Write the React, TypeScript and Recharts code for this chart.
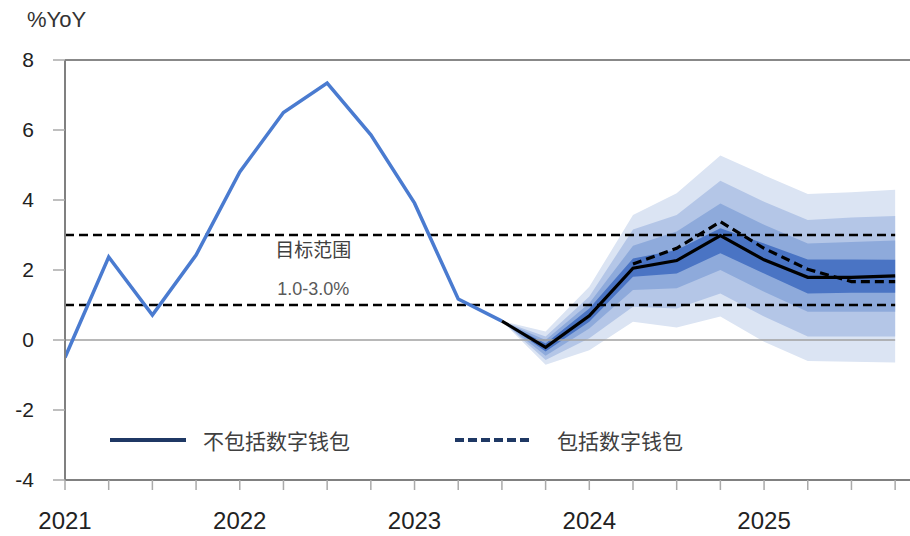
import React from 'react';
import {
  ComposedChart, Line, Area, XAxis, YAxis, ReferenceLine, ReferenceDot,
} from 'recharts';

// quarters 2021Q1 .. 2025Q4
const quarterIdx = [0, 1, 2, 3, 4, 5, 6, 7, 8, 9, 10, 11, 12, 13, 14, 15, 16, 17, 18, 19];
const yearTicks = ['2021', '2022', '2023', '2024', '2025'];

const history = [-0.5, 2.37, 0.71, 2.43, 4.8, 6.5, 7.34, 5.86, 3.91, 1.17, 0.54, null, null, null, null, null, null, null, null, null];
const noWallet = [null, null, null, null, null, null, null, null, null, null, 0.54, -0.21, 0.69, 2.05, 2.27, 2.98, 2.29, 1.79, 1.79, 1.83];
const withWallet = [null, null, null, null, null, null, null, null, null, null, null, null, null, 2.17, 2.62, 3.38, 2.62, 2.02, 1.67, 1.67];

// fan chart bands (from Q index 10)
const outerLo = [0.54, -0.71, -0.29, 0.52, 0.36, 0.67, -0.05, -0.6, -0.62, -0.64];
const outerHi = [0.54, 0.24, 1.52, 3.57, 4.19, 5.27, 4.71, 4.17, 4.22, 4.29];
const band2Lo = [0.54, -0.57, 0.05, 0.95, 0.9, 1.33, 0.67, 0.1, 0.1, 0.1];
const band2Hi = [0.54, 0.1, 1.24, 3.16, 3.57, 4.55, 3.95, 3.43, 3.5, 3.54];
const band3Lo = [0.54, -0.45, 0.33, 1.43, 1.48, 2.0, 1.38, 0.81, 0.81, 0.81];
const band3Hi = [0.54, 0.0, 1.05, 2.69, 3.1, 3.9, 3.29, 2.76, 2.8, 2.84];
const innerLo = [0.54, -0.33, 0.52, 1.81, 1.9, 2.48, 1.9, 1.33, 1.35, 1.35];
const innerHi = [0.54, -0.1, 0.9, 2.33, 2.57, 3.19, 2.76, 2.3, 2.3, 2.29];
const fanStart = 10;

const targetLow = 1;
const targetHigh = 3;

const band = (lo: number[], hi: number[], i: number) =>
  i >= fanStart ? [lo[i - fanStart], hi[i - fanStart]] : null;

const data = quarterIdx.map((i) => ({
  i,
  hist: history[i],
  noWallet: noWallet[i],
  withWallet: withWallet[i],
  outer: band(outerLo, outerHi, i),
  b2: band(band2Lo, band2Hi, i),
  b3: band(band3Lo, band3Hi, i),
  inner: band(innerLo, innerHi, i),
}));

const numFont = '"Liberation Sans", Arial, sans-serif';
const cjkFont = '"Noto Sans CJK SC", sans-serif';

export default function App() {
  return (
    <div style={{ position: 'relative', width: 910, height: 536, background: '#fff' }}>
      <style>{`body{margin:0}`}</style>
      <div style={{ position: 'absolute', left: 27, top: 7, fontFamily: numFont, fontSize: 22, color: '#333' }}>%YoY</div>
      <ComposedChart width={910} height={536} data={data} margin={{ top: 60, right: 0, left: 0, bottom: 0 }}>
        <XAxis
          type="number"
          dataKey="i"
          domain={[0, 19.34]}
          allowDataOverflow
          ticks={quarterIdx}
          interval={0}
          tickFormatter={(v: number) => (v % 4 === 0 ? yearTicks[v / 4] : '')}
          height={56}
          tickSize={10}
          tickMargin={22}
          axisLine={{ stroke: '#808080', strokeWidth: 2 }}
          tickLine={{ stroke: '#aaa', strokeWidth: 1.5 }}
          tick={{ fill: '#222', fontSize: 24, fontFamily: '"Liberation Sans Narrow", sans-serif' }}
        />
        <YAxis
          type="number"
          domain={[-4, 8]}
          ticks={[-4, -2, 0, 2, 4, 6, 8]}
          width={65}
          tickSize={12}
          tickMargin={19}
          axisLine={{ stroke: '#808080', strokeWidth: 2 }}
          tickLine={{ stroke: '#aaa', strokeWidth: 1.5 }}
          tick={{ fill: '#222', fontSize: 21, fontFamily: numFont }}
        />
        <Area type="linear" dataKey="outer" stroke="none" fill="#dbe4f3" fillOpacity={1} isAnimationActive={false} />
        <Area type="linear" dataKey="b2" stroke="none" fill="#b4c6e7" fillOpacity={1} isAnimationActive={false} />
        <Area type="linear" dataKey="b3" stroke="none" fill="#8eaadb" fillOpacity={1} isAnimationActive={false} />
        <Area type="linear" dataKey="inner" stroke="none" fill="#4a74c4" fillOpacity={1} isAnimationActive={false} />
        <ReferenceLine y={8} stroke="#888" strokeWidth={2} />
        <ReferenceLine segment={[{ x: 0, y: 0 }, { x: 19, y: 0 }]} stroke="#a0a0a0" strokeWidth={1.5} />
        <ReferenceLine segment={[{ x: 0, y: targetHigh }, { x: 19, y: targetHigh }]} stroke="#000" strokeWidth={2.5} strokeDasharray="9 5" />
        <ReferenceLine segment={[{ x: 0, y: targetLow }, { x: 19, y: targetLow }]} stroke="#000" strokeWidth={2.5} strokeDasharray="9 5" />
        <ReferenceDot
          x={5.68}
          y={2.57}
          r={0}
          fill="none"
          stroke="none"
          label={{ value: '目标范围', position: 'center', fill: '#404040', fontSize: 19, fontFamily: cjkFont }}
        />
        <ReferenceDot
          x={5.68}
          y={1.46}
          r={0}
          fill="none"
          stroke="none"
          label={{ value: '1.0-3.0%', position: 'center', fill: '#595959', fontSize: 18, fontFamily: numFont }}
        />
        <Line type="linear" dataKey="hist" stroke="#4a7bd0" strokeWidth={3.5} dot={false} isAnimationActive={false} />
        <Line type="linear" dataKey="withWallet" stroke="#000" strokeWidth={3.2} strokeDasharray="9 5" dot={false} isAnimationActive={false} />
        <Line type="linear" dataKey="noWallet" stroke="#000" strokeWidth={3.2} dot={false} isAnimationActive={false} />
      </ComposedChart>
      <div style={{ position: 'absolute', left: 110, top: 425, display: 'flex', alignItems: 'center', fontFamily: cjkFont, fontSize: 21, color: '#404040' }}>
        <svg width={76} height={10}><line x1={0} y1={5} x2={76} y2={5} stroke="#1f3864" strokeWidth={4} /></svg>
        <span style={{ marginLeft: 17 }}>不包括数字钱包</span>
        <svg width={76} height={10} style={{ marginLeft: 105 }}><line x1={0} y1={5} x2={76} y2={5} stroke="#1f3864" strokeWidth={4} strokeDasharray="9 4" /></svg>
        <span style={{ marginLeft: 26 }}>包括数字钱包</span>
      </div>
    </div>
  );
}
